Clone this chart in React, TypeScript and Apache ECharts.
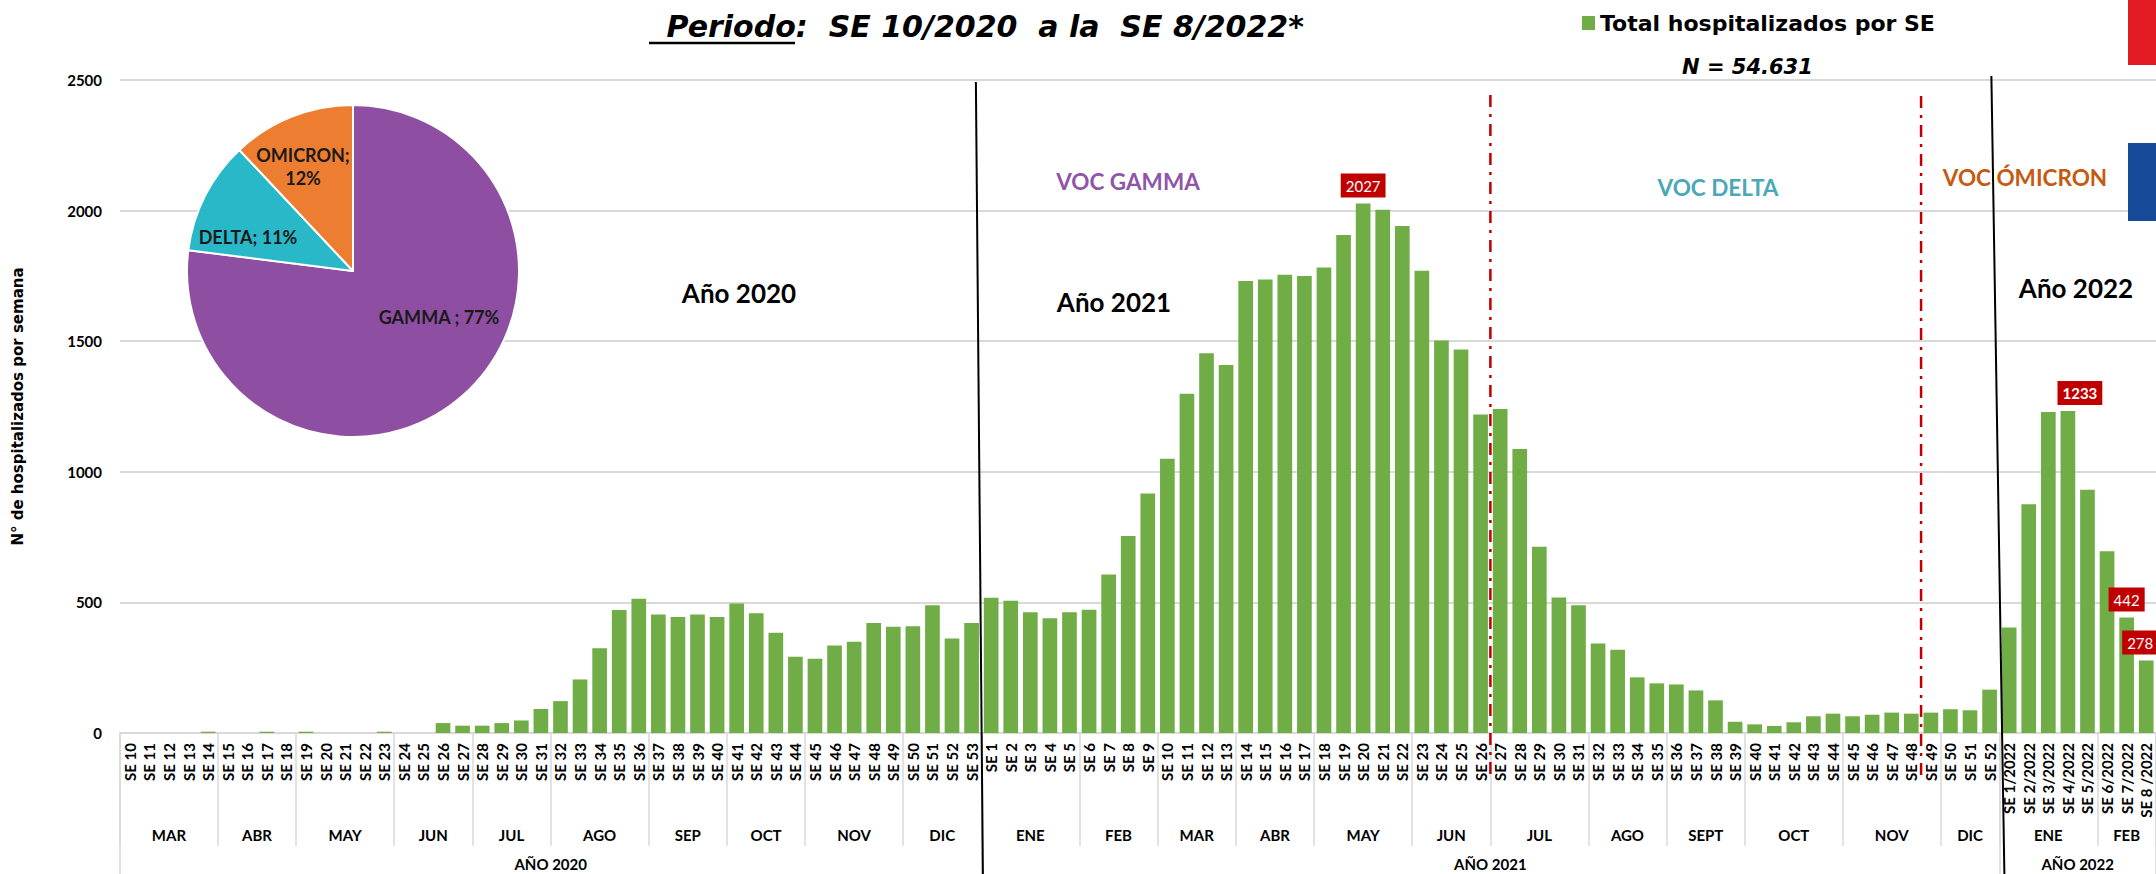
import React, { useEffect, useRef } from 'react';
import * as echarts from 'echarts';

// ---------- categories ----------
const seLabels2020 = Array.from({ length: 44 }, (_, i) => `SE ${i + 10}`);
const seLabels2021 = Array.from({ length: 52 }, (_, i) => `SE ${i + 1}`);
const seLabels2022 = ['SE 1/2022', 'SE 2/2022', 'SE 3/2022', 'SE 4/2022', 'SE 5/2022', 'SE 6/2022', 'SE 7/2022', 'SE 8 /2022'];
const weekLabels = [...seLabels2020, ...seLabels2021, ...seLabels2022];

// ---------- values (hospitalizados por SE) ----------
const values2020 = [
  0, 0, 0, 0, 5, // MAR
  0, 0, 5, 0, // ABR
  5, 0, 0, 0, 5, // MAY
  0, 0, 38, 28, // JUN
  28, 38, 48, 92, // JUL
  122, 205, 324, 471, 514, // AGO
  454, 444, 454, 444, // SEP
  496, 458, 384, 292, // OCT
  284, 335, 349, 421, 407, // NOV
  409, 489, 362, 421, // DIC
];
const values2021 = [
  518, 506, 462, 439, 462, // ENE
  472, 607, 754, 917, // FEB
  1050, 1299, 1454, 1409, // MAR
  1730, 1736, 1754, 1750, // ABR
  1782, 1907, 2027, 2003, 1941, // MAY
  1770, 1503, 1468, 1219, // JUN
  1240, 1087, 713, 519, 489, // JUL
  343, 319, 213, 190, // AGO
  186, 163, 125, 43, // SEPT
  33, 27, 41, 64, 74, // OCT
  64, 70, 78, 74, 78, // NOV
  91, 87, 166, // DIC
];
const values2022 = [404, 876, 1229, 1233, 931, 696, 442, 278];
const weekValues = [...values2020, ...values2021, ...values2022];

// ---------- grouping levels ----------
const monthNames = ['MAR', 'ABR', 'MAY', 'JUN', 'JUL', 'AGO', 'SEP', 'OCT', 'NOV', 'DIC',
  'ENE', 'FEB', 'MAR', 'ABR', 'MAY', 'JUN', 'JUL', 'AGO', 'SEPT', 'OCT', 'NOV', 'DIC',
  'ENE', 'FEB'];
const monthWeeks = [5, 4, 5, 4, 4, 5, 4, 4, 5, 4,
  5, 4, 4, 4, 5, 4, 5, 4, 4, 5, 5, 3,
  5, 3];
const yearNames = ['AÑO 2020', 'AÑO 2021', 'AÑO 2022'];
const yearWeeks = [44, 52, 8];

// callouts (global week index)
const calloutWeeks = [63, 99, 102, 103];
const calloutBold = [false, true, false, false];
const calloutOffsetX = [0, 12, 0, -6];

// pie
const variantNames = ['GAMMA ', 'DELTA', 'OMICRON'];
const variantPct = [77, 11, 12];
const variantColors = ['#8E4FA2', '#29B8C8', '#ED7D31'];

const yTicks = [0, 500, 1000, 1500, 2000, 2500];

function groupInfo(weeks: number[]) {
  const bounds: number[] = [0];
  const centers: number[] = [];
  let acc = 0;
  weeks.forEach((w) => {
    centers.push(acc + w / 2);
    acc += w;
    bounds.push(acc);
  });
  return { bounds, centers };
}

const LATO = 'Lato';
const DJV = 'DejaVu Sans';

export default function App() {
  const ref = useRef<HTMLDivElement>(null);
  useEffect(() => {
    const chart = echarts.init(ref.current!, null, { renderer: 'svg' });
    const months = groupInfo(monthWeeks);
    const years = groupInfo(yearWeeks);
    const monthMap = new Map<number, string>();
    months.centers.forEach((c, i) => monthMap.set(c, monthNames[i]));
    const yearMap = new Map<number, string>();
    years.centers.forEach((c, i) => yearMap.set(c, yearNames[i]));
    const total = weekLabels.length;

    const barData = weekValues.map((v, i) => {
      const k = calloutWeeks.indexOf(i);
      if (k < 0) return v;
      return {
        value: v,
        label: {
          show: true,
          position: 'top',
          distance: 6,
          offset: [calloutOffsetX[k], 0],
          backgroundColor: '#C00000',
          color: '#fff',
          padding: [5, 5, 4, 5],
          fontFamily: LATO,
          fontSize: 15,
          fontWeight: calloutBold[k] ? 'bold' : 'normal',
        },
      };
    });

    const pieLabelPos = [
      [439, 317],
      [248, 237],
      [303, 166],
    ];

    const option: any = {
      animation: false,
      backgroundColor: '#fff',
      title: {
        text: ' Periodo:  SE 10/2020  a la  SE 8/2022*',
        left: 651,
        top: 6,
        textStyle: { fontFamily: DJV, fontWeight: 'bold', fontStyle: 'italic', fontSize: 30, color: '#000' },
      },
      legend: {
        data: ['Total hospitalizados por SE'],
        left: 1577,
        top: 7,
        icon: 'rect',
        itemWidth: 13,
        itemHeight: 14,
        textStyle: { fontFamily: DJV, fontWeight: 'bold', fontSize: 22, color: '#000' },
      },
      grid: { left: 120, right: 0, top: 80, bottom: 141, containLabel: false },
      xAxis: [
        {
          type: 'category',
          data: weekLabels,
          boundaryGap: true,
          axisLine: { show: true, lineStyle: { color: '#D9D9D9', width: 2 } },
          axisTick: { show: false },
          axisLabel: { interval: 0, rotate: 90, margin: 10, fontFamily: LATO, fontWeight: 'bold', fontSize: 15, color: '#000' },
          splitLine: { show: false },
        },
        {
          type: 'value',
          min: 0,
          max: total,
          position: 'bottom',
          axisLine: { show: false },
          axisTick: { show: true, customValues: months.bounds, length: 113, lineStyle: { color: '#D9D9D9', width: 1.5 } },
          axisLabel: {
            customValues: months.centers,
            formatter: (v: number) => monthMap.get(v) ?? '',
            margin: 94,
            fontFamily: LATO, fontWeight: 'bold', fontSize: 15, color: '#000',
          },
          splitLine: { show: false },
        },
        {
          type: 'value',
          min: 0,
          max: total,
          position: 'bottom',
          axisLine: { show: false },
          axisTick: { show: true, customValues: years.bounds, length: 141, lineStyle: { color: '#D9D9D9', width: 1.5 } },
          axisLabel: {
            customValues: years.centers,
            formatter: (v: number) => yearMap.get(v) ?? '',
            margin: 123,
            fontFamily: LATO, fontWeight: 'bold', fontSize: 15, color: '#000',
          },
          splitLine: { show: false },
        },
      ],
      yAxis: {
        type: 'value',
        min: yTicks[0],
        max: yTicks[yTicks.length - 1],
        interval: 500,
        name: 'N° de hospitalizados por semana',
        nameLocation: 'middle',
        nameRotate: 90,
        nameGap: 95,
        nameTextStyle: { fontFamily: DJV, fontWeight: 'bold', fontSize: 15, color: '#000' },
        axisLine: { show: false },
        axisTick: { show: false },
        axisLabel: {
          margin: 18, fontFamily: LATO, fontWeight: 'bold', fontSize: 15, color: '#000',
          formatter: (v: number) => String(v),
        },
        splitLine: { lineStyle: { color: '#D9D9D9', width: 2 } },
      },
      series: [
        {
          name: 'Total hospitalizados por SE',
          type: 'bar',
          xAxisIndex: 0,
          yAxisIndex: 0,
          data: barData,
          barCategoryGap: '25%',
          itemStyle: { color: '#70AD47' },
          z: 2,
        },
        {
          name: 'Variantes',
          type: 'pie',
          center: [353, 271],
          radius: 166,
          startAngle: 90,
          clockwise: true,
          z: 5,
          data: variantNames.map((n, i) => ({
            name: n,
            value: variantPct[i],
            itemStyle: { color: variantColors[i] },
            label: i === 2 ? { formatter: '{b};\n{c}%' } : undefined,
          })),
          itemStyle: { borderColor: '#fff', borderWidth: 2 },
          label: {
            show: true,
            position: 'inside',
            formatter: '{b}; {c}%',
            fontFamily: LATO,
            fontWeight: 'bold',
            fontSize: 18,
            lineHeight: 23,
            color: '#1a1a1a',
          },
          labelLine: { show: false },
          labelLayout: (p: any) => ({
            x: pieLabelPos[p.dataIndex][0],
            y: pieLabelPos[p.dataIndex][1],
            align: 'center',
            verticalAlign: 'middle',
          }),
          emphasis: { disabled: true },
        },
      ],
    };
    chart.setOption(option);

    const px = (v: number) => chart.convertToPixel({ xAxisIndex: 1 }, v) as number;
    const b2021 = px(yearWeeks[0]);
    const b2022 = px(yearWeeks[0] + yearWeeks[1]);
    const bDelta = px(yearWeeks[0] + 26);
    const bOmicron = px(yearWeeks[0] + 48);

    const txt = (id: string, text: string, x: number, y: number, fill: string, size: number, family = LATO) => ({
      type: 'text', id, x, y, z: 50,
      style: { text, fill, fontFamily: family, fontWeight: 'bold', fontSize: size, align: 'center', verticalAlign: 'middle' },
    });

    chart.setOption({
      graphic: [
        { type: 'rect', id: 'logoRed', shape: { x: 2128, y: 0, width: 40, height: 65 }, style: { fill: '#E31B23' }, z: 1 },
        { type: 'rect', id: 'logoBlue', shape: { x: 2128, y: 143, width: 40, height: 78 }, style: { fill: '#174A98' }, z: 1 },
        { type: 'line', id: 'underline', shape: { x1: 649, y1: 43, x2: 795, y2: 43 }, style: { stroke: '#000', lineWidth: 2.5 }, z: 50 },
        {
          type: 'text', id: 'nTotal', x: 1682, y: 67, z: 50,
          style: { text: 'N = 54.631', fill: '#000', fontFamily: DJV, fontWeight: 'bold', fontStyle: 'italic', fontSize: 21, align: 'left', verticalAlign: 'middle' },
        },
        txt('a2020', 'Año 2020', 739, 293, '#000', 26),
        txt('a2021', 'Año 2021', 1114, 302, '#000', 26),
        txt('a2022', 'Año 2022', 2076, 288, '#000', 26),
        txt('vGamma', 'VOC GAMMA', 1128, 181, '#8E55A8', 22.5),
        txt('vDelta', 'VOC DELTA', 1718, 187, '#4AA8B8', 22.5),
        txt('vOmicron', 'VOC ÓMICRON', 2025, 177, '#C55A11', 22.5),
        { type: 'line', id: 'y2021', shape: { x1: b2021 - 5.5, y1: 82, x2: b2021 + 1.5, y2: 874 }, style: { stroke: '#000', lineWidth: 2 }, z: 60 },
        { type: 'line', id: 'y2022', shape: { x1: b2022 - 8, y1: 76, x2: b2022 + 5, y2: 874 }, style: { stroke: '#000', lineWidth: 2 }, z: 60 },
        { type: 'line', id: 'delta', shape: { x1: bDelta, y1: 95, x2: bDelta, y2: 778 }, style: { stroke: '#C00000', lineWidth: 2.5, lineDash: [12, 7, 3, 7] }, z: 60 },
        { type: 'line', id: 'omicron', shape: { x1: bOmicron, y1: 96, x2: bOmicron, y2: 778 }, style: { stroke: '#C00000', lineWidth: 2.5, lineDash: [12, 7, 3, 7] }, z: 60 },
      ],
    });

    return () => chart.dispose();
  }, []);
  return <div ref={ref} style={{ position: 'absolute', left: 0, top: 0, width: 2156, height: 874, background: '#fff' }} />;
}
